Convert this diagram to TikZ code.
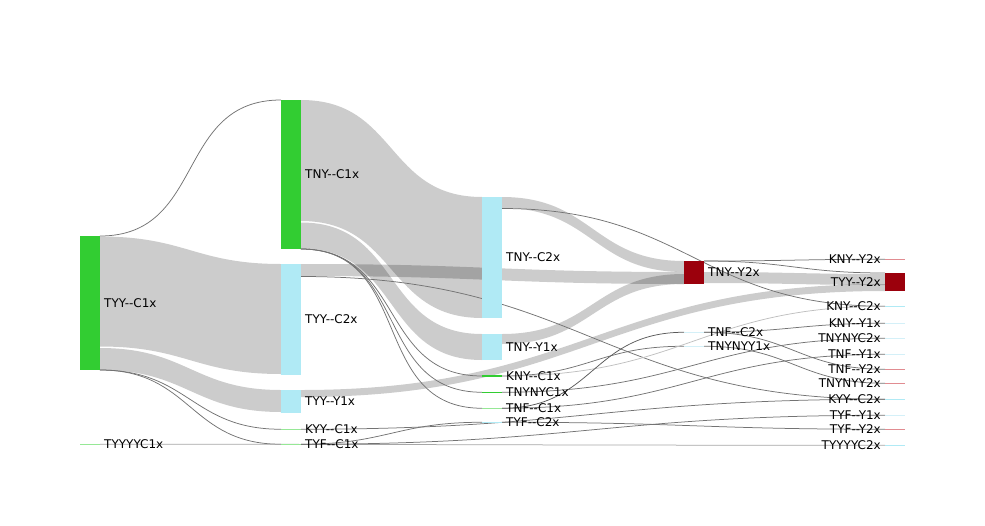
\documentclass[tikz,border=0pt]{standalone}
\usepackage{fontspec}
\usepackage{xcolor}
\newfontfamily\lblfont{DejaVu Sans}[Ligatures=TeXOff]
\usetikzlibrary{positioning,backgrounds}

\definecolor{nodegreen}{RGB}{50,205,50}
\definecolor{palegreen}{RGB}{150,232,150}
\definecolor{nodeblue}{RGB}{176,234,245}
\definecolor{paleblue}{RGB}{212,240,248}
\definecolor{nodered}{RGB}{155,0,12}
\definecolor{palered}{RGB}{225,140,145}

\tikzset{
  bar/.style={rectangle, inner sep=0pt, outer sep=0pt, minimum width=20pt, anchor=north west},
  lbl/.style={inner sep=0pt, font=\lblfont\fontsize{12}{14}\selectfont},
  band/.style={fill=black, fill opacity=0.2},
  flow/.style={draw=black!55, line width=0.75pt, out=0, in=180, looseness=1.2},
}

% band between two bars: source anchor, offset, target anchor, offset, width
\newcommand\linkband[5]{%
  \fill[band] ([yshift=-#2pt]#1) to[out=0,in=180,looseness=1.2] ([yshift=-#4pt]#3)
    -- ([yshift=-#4pt-#5pt]#3) to[out=180,in=0,looseness=1.2] ([yshift=-#2pt-#5pt]#1) -- cycle;}

\begin{document}
\begin{tikzpicture}[x=1pt, y=-1pt]
    \useasboundingbox (0,0) rectangle (985,525);
    \begin{scope}
        % First column
        \foreach \nm/\txt/\y/\h/\col in {tyyc1/TYY--C1x/236/134pt/nodegreen,
                tyyyyc1/TYYYYC1x/443.5/1.5pt/palegreen} {
            \node[bar, fill=\col, minimum height=\h] (\nm) at (80,\y) {};
            \node[lbl, right=4pt of \nm] (\nm-lab) {\txt};
        }

        % Second column
        \foreach \nm/\txt/\y/\h/\col in {tnyc1/TNY--C1x/100/149pt/nodegreen,
                tyyc2/TYY--C2x/264/111pt/nodeblue, tyyy1/TYY--Y1x/390/23pt/nodeblue,
                kyyc1/KYY--C1x/428.5/1.5pt/palegreen, tyfc1/TYF--C1x/443.5/1.5pt/palegreen} {
            \node[bar, fill=\col, minimum height=\h] (\nm) at (281,\y) {};
            \node[lbl, right=4pt of \nm] (\nm-lab) {\txt};
        }

        % Third column
        \foreach \nm/\txt/\y/\h/\col in {tnyc2/TNY--C2x/197/121pt/nodeblue,
                tnyy1/TNY--Y1x/334/26pt/nodeblue, knyc1/KNY--C1x/375/2pt/nodegreen,
                tnynyc1/TNYNYC1x/391.5/1.5pt/nodegreen, tnfc1/TNF--C1x/407.5/1.5pt/palegreen,
                tyfc2/TYF--C2x/421.5/1.5pt/nodeblue} {
            \node[bar, fill=\col, minimum height=\h] (\nm) at (482,\y) {};
            \node[lbl, right=4pt of \nm] (\nm-lab) {\txt};
        }

        % Fourth column
        \foreach \nm/\txt/\y/\h/\col in {tnyy2/TNY--Y2x/261/23pt/nodered,
                tnfc2/TNF--C2x/331.5/1.5pt/paleblue, tnynyy1/TNYNYY1x/345.5/1.5pt/paleblue} {
            \node[bar, fill=\col, minimum height=\h] (\nm) at (684,\y) {};
            \node[lbl, right=4pt of \nm] (\nm-lab) {\txt};
        }

        % Last column, labels on the left
        \foreach \nm/\txt/\y/\h/\col in {knyy2/KNY--Y2x/258.5/1.5pt/palered,
                tyyy2/TYY--Y2x/273/18pt/nodered, knyc2/KNY--C2x/305.5/1.5pt/nodeblue,
                knyy1/KNY--Y1x/322.5/1.5pt/paleblue, tnynyc2/TNYNYC2x/337.5/1.5pt/paleblue,
                tnfy1/TNF--Y1x/353.5/1.5pt/paleblue, tnfy2/TNF--Y2x/368.5/1.5pt/palered,
                tnynyy2/TNYNYY2x/382.5/1.5pt/palered, kyyc2/KYY--C2x/398.5/1.5pt/nodeblue,
                tyfy1/TYF--Y1x/414.5/1.5pt/paleblue, tyfy2/TYF--Y2x/428.5/1.5pt/palered,
                tyyyyc2/TYYYYC2x/444.5/1.5pt/nodeblue} {
            \node[bar, fill=\col, minimum height=\h] (\nm) at (885,\y) {};
            \node[lbl, left=4pt of \nm] (\nm-lab) {\txt};
        }

        \begin{pgfonlayer}{background}
            % Wide links
            \linkband{tyyc1.north east}{0.5}{tyyc2.north west}{0}{110}
            \linkband{tyyc1.north east}{112}{tyyy1.north west}{0}{22}
            \linkband{tnyc1.north east}{0}{tnyc2.north west}{0}{121}
            \linkband{tnyc1.north east}{122.5}{tnyy1.north west}{0}{26}
            \linkband{tnyc2.north east}{0}{tnyy2.north west}{0}{11}
            \linkband{tyyc2.north east}{0}{tnyy2.north west}{11}{12}
            \linkband{tnyy1.north east}{0}{tnyy2.north west}{13}{10}
            \linkband{tnyy2.north east}{11}{tyyy2.north west}{1}{11}
            \linkband{tyyy1.north east}{0}{tyyy2.north west}{11}{7}

            % Thin links
            \draw[flow] (tyyc1.north east) to (tnyc1.north west);
            \draw[flow] (tyyc1.south east) to (kyyc1.west);
            \draw[flow] (tyyc1.south east) to (tyfc1.west);
            \draw[flow, draw=black!35] (tyyyyc1.east) to (tyyyyc2.west);
            \foreach \t in {knyc1,tnynyc1,tnfc1}
                \draw[flow] (tnyc1.south east) to (\t.west);
            \draw[flow] ([yshift=-12.5pt]tyyc2.north east) to (kyyc2.west);
            \draw[flow] ([yshift=-11.5pt]tnyc2.north east) to (knyc2.west);
            \draw[flow] (tnyy2.north east) to (knyy2.west);
            \draw[flow] (tnyy2.north east) to (tyyy2.north west);
            \draw[flow] (knyc1.east) to (tnynyy1.west);
            \draw[flow, draw=black!25] (knyc1.east) to (knyc2.west);
            \draw[flow] (tnynyc1.east) to (tnynyc2.west);
            \draw[flow, draw=black!65] (tnfc1.east) to (tnfc2.west);
            \draw[flow] (tnfc1.east) to (tnfy1.west);
            \draw[flow] (kyyc1.east) to (kyyc2.west);
            \draw[flow] (tyfc1.east) to (tyfc2.west);
            \draw[flow] (tyfc1.east) to (tyfy1.west);
            \draw[flow] (tyfc2.east) to (tyfy2.west);
            \draw[flow] (tnfc2.east) to (knyy1.west);
            \draw[flow] (tnfc2.east) to (tnfy2.west);
            \draw[flow] (tnynyy1.east) to (tnynyy2.west);
        \end{pgfonlayer}
    \end{scope}
\end{tikzpicture}
\end{document}
